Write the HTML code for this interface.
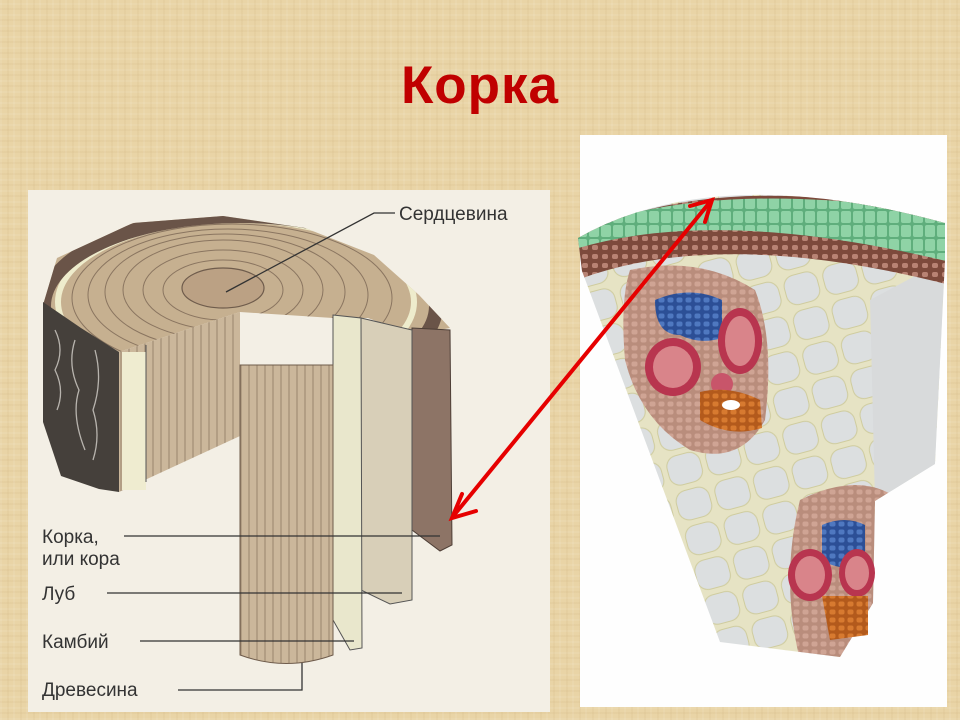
<!DOCTYPE html>
<html><head><meta charset="utf-8"><style>
html,body{margin:0;padding:0;width:960px;height:720px;overflow:hidden}
body{background:#e9d4a6;background-image:repeating-linear-gradient(90deg,rgba(255,255,255,.07) 0 2px,transparent 2px 7px,rgba(160,120,60,.05) 7px 9px,transparent 9px 13px),repeating-linear-gradient(0deg,rgba(255,255,255,.07) 0 2px,transparent 2px 6px,rgba(160,120,60,.05) 6px 8px,transparent 8px 11px);font-family:"Liberation Sans",sans-serif}
.t{position:absolute;left:0;width:960px;top:55px;text-align:center;font-weight:bold;font-size:53px;letter-spacing:1px;color:#c00000}
svg{position:absolute;left:0;top:0}
</style></head><body>
<div class="t">Корка</div>
<svg width="960" height="720" viewBox="0 0 960 720">
<defs>
<pattern id="cells" width="40" height="36" patternUnits="userSpaceOnUse" patternTransform="rotate(-15)">
<rect width="40" height="36" fill="#e6e3c4"/>
<rect x="3" y="3" width="34" height="30" rx="11" fill="#dcdfe0" stroke="#cfcc9e" stroke-width="1"/>
</pattern>
<pattern id="small" width="9" height="8" patternUnits="userSpaceOnUse">
<rect width="9" height="8" fill="#b98d7c"/>
<rect x="1.5" y="1.5" width="6" height="5" rx="2" fill="#cfa494"/>
</pattern>
<pattern id="blue" width="9" height="8" patternUnits="userSpaceOnUse">
<rect width="9" height="8" fill="#2c4f96"/>
<rect x="1.5" y="1.5" width="6" height="5" rx="2" fill="#4f78c0"/>
</pattern>
<pattern id="orange" width="9" height="8" patternUnits="userSpaceOnUse">
<rect width="9" height="8" fill="#b35a1c"/>
<rect x="1.5" y="1.5" width="6" height="5" rx="2" fill="#d77a30"/>
</pattern>
<pattern id="green" width="12" height="14" patternUnits="userSpaceOnUse">
<rect width="12" height="14" fill="#5fae7c"/>
<rect x="1" y="1" width="10" height="12" rx="2" fill="#8fd3a6"/>
</pattern>
<pattern id="brown" width="10" height="9" patternUnits="userSpaceOnUse">
<rect width="10" height="9" fill="#7d4a3c"/>
<rect x="2" y="2" width="6" height="5" rx="2" fill="#b88374"/>
</pattern>
<pattern id="fib" width="8" height="10" patternUnits="userSpaceOnUse">
<rect width="8" height="10" fill="#cbb79b"/>
<line x1="1" y1="0" x2="1" y2="10" stroke="#8c7862" stroke-width="0.8"/>
</pattern>
<clipPath id="fan"><path d="M578,238 Q715,160 945,223 L945,260 L935,464 L875,501 L873,603 L840,657 L720,642 L582,271 Z"/></clipPath>
<clipPath id="disc"><path d="M43,305 L57,258 L133,223 L223,216 L305,228 L374,255 L419,295 L450,328 L412,335 L368,318 L333,318 L240,312 L119,352 Z"/></clipPath>
</defs>

<rect x="28" y="190" width="522" height="522" fill="#f3efe5"/>
<path d="M43,305 L57,258 L133,223 L223,216 L305,228 L374,255 L419,295 L450,328 L412,335 L368,318 L333,318 L240,312 L119,352 Z" fill="#c6b090"/>
<g clip-path="url(#disc)" fill="none" stroke="#8a7560" stroke-width="1">
<ellipse cx="223" cy="290" rx="60" ry="30"/><ellipse cx="223" cy="290" rx="80" ry="40"/>
<ellipse cx="223" cy="290" rx="100" ry="50"/><ellipse cx="225" cy="292" rx="120" ry="58"/>
<ellipse cx="228" cy="295" rx="140" ry="66"/><ellipse cx="232" cy="298" rx="160" ry="74"/>
<ellipse cx="236" cy="302" rx="178" ry="82" stroke="#eeeccc" stroke-width="6"/>
<ellipse cx="240" cy="306" rx="196" ry="90" stroke="#6a5448" stroke-width="14"/>
</g>
<ellipse cx="223" cy="288" rx="41" ry="20" fill="#bba184" stroke="#6f5c4c" stroke-width="1.2"/>
<path d="M43,302 L81,328 L119,352 L119,492 L99,489 L61,476 L43,422 Z" fill="#45403b"/>
<path d="M55,330 q10,20 0,40 q10,20 2,40 M75,340 q-8,25 4,50 q-8,25 6,60 M95,350 q8,30 -2,60 q8,25 0,50" stroke="#b8b4ae" stroke-width="1.3" fill="none"/>
<path d="M119,352 L240,312 L240,436 L119,492 Z" fill="url(#fib)"/>
<rect x="122" y="352" width="24" height="138" fill="#efecd0"/>
<line x1="146" y1="345" x2="146" y2="482" stroke="#555" stroke-width="1"/>
<path d="M412,328 L450,330 L452,545 L440,551 L412,530 Z" fill="#8d7466" stroke="#4d3e36" stroke-width="1"/>
<path d="M361,318 L412,330 L412,600 L390,604 L361,590 Z" fill="#d8cfb8" stroke="#555" stroke-width="1"/>
<path d="M333,315 L361,318 L362,648 L350,650 L333,620 Z" fill="#e9e7cc" stroke="#555" stroke-width="1"/>
<path d="M240,365 L333,365 L333,655 Q286,672 240,655 Z" fill="url(#fib)" stroke="#6f5c4c" stroke-width="1"/>
<g stroke="#333" stroke-width="1.3" fill="none">
<path d="M395,213 L374,213 L226,292"/>
<path d="M124,536 L440,536"/>
<path d="M107,593 L402,593"/>
<path d="M140,641 L354,641"/>
<path d="M178,690 L302,690 L302,663"/>
</g>
<g font-family="Liberation Sans, sans-serif" font-size="19" fill="#333">
<text x="399" y="220">Сердцевина</text>
<text x="42" y="543">Корка,</text>
<text x="42" y="565">или кора</text>
<text x="42" y="600">Луб</text>
<text x="42" y="648">Камбий</text>
<text x="42" y="696">Древесина</text>
</g>

<rect x="580" y="135" width="367" height="572" fill="#fefefe"/>
<g clip-path="url(#fan)">
<rect x="560" y="150" width="400" height="520" fill="url(#cells)"/>
<path d="M870,300 L945,260 L935,464 L875,501 Z" fill="#d8dadb"/>
<path d="M572,238 Q715,165 950,218 L950,285 Q715,225 572,282 Z" fill="url(#brown)"/>
<path d="M572,232 Q715,175 950,215 L950,262 Q715,205 572,250 Z" fill="url(#green)"/>
<path d="M630,270 Q700,255 755,290 Q775,340 765,420 Q740,465 690,450 Q640,420 625,360 Q620,300 630,270 Z" fill="url(#small)"/>
<path d="M800,500 Q860,470 900,500 L890,660 L800,660 Q780,580 800,500 Z" fill="url(#small)"/>
</g>
<path d="M655,300 Q690,285 722,300 L722,338 Q700,345 680,335 Q655,335 655,300 Z" fill="url(#blue)"/>
<ellipse cx="673" cy="367" rx="28" ry="29" fill="#b8354f"/><ellipse cx="673" cy="367" rx="20" ry="21" fill="#d9848a"/>
<ellipse cx="740" cy="341" rx="22" ry="33" fill="#b8354f"/><ellipse cx="740" cy="341" rx="15" ry="25" fill="#d9848a"/>
<circle cx="722" cy="384" r="11" fill="#c8556a"/>
<path d="M700,392 Q730,385 760,400 L762,428 Q730,438 700,420 Z" fill="url(#orange)"/>
<ellipse cx="731" cy="405" rx="9" ry="5" fill="#fff"/>
<path d="M822,525 Q845,515 865,525 L865,565 Q840,572 822,560 Z" fill="url(#blue)"/>
<ellipse cx="810" cy="575" rx="22" ry="26" fill="#b8354f"/><ellipse cx="810" cy="575" rx="15" ry="19" fill="#d9848a"/>
<ellipse cx="857" cy="573" rx="18" ry="24" fill="#b8354f"/><ellipse cx="857" cy="573" rx="12" ry="17" fill="#d9848a"/>
<path d="M822,596 L868,596 L868,635 L830,640 Z" fill="url(#orange)"/>

<g stroke="#e60000" stroke-width="4" fill="none" stroke-linecap="round">
<line x1="455" y1="514" x2="710" y2="202"/>
<path d="M462,494 L452,518 L476,511"/>
<path d="M690,206 L712,200 L705,222"/>
</g>
</svg>
</body></html>
